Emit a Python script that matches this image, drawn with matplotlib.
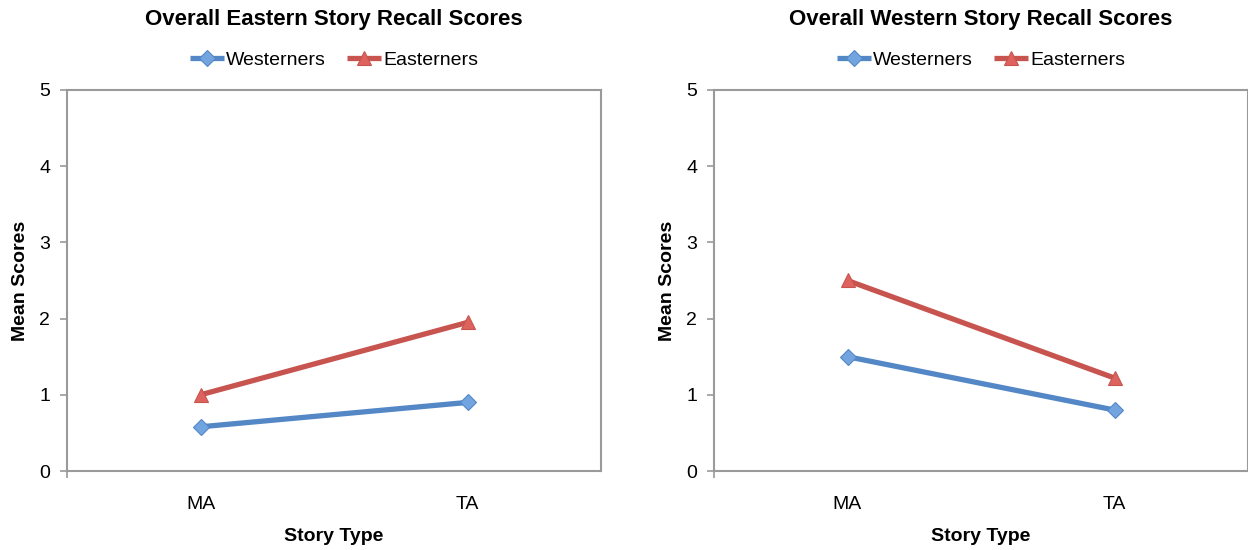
import matplotlib
matplotlib.use("Agg")
import matplotlib.pyplot as plt

plt.rcParams['font.family'] = ['Liberation Sans', 'DejaVu Sans']

categories = ["MA", "TA"]
titles = ["Overall Eastern Story Recall Scores", "Overall Western Story Recall Scores"]
westerners = [[0.58, 0.90], [1.50, 0.80]]
easterners = [[1.00, 1.95], [2.50, 1.22]]
yticks = [0, 1, 2, 3, 4, 5]

blue_line = "#5387C6"
blue_fill = "#72A4E0"
red_line = "#C8544F"
red_fill = "#DE635E"
spine_c = "#9A9A9A"

fig = plt.figure(figsize=(12.48, 5.5), dpi=100)
positions = [[67/1248, 79/550, 534/1248, 381/550], [714/1248, 79/550, 534/1248, 381/550]]

for i in range(2):
    ax = fig.add_axes(positions[i])
    x = list(range(len(categories)))
    ax.plot(x, westerners[i], color=blue_line, lw=3.8, marker="D", ms=8,
            mfc=blue_fill, mec=blue_line, mew=0.8, label="Westerners", solid_capstyle="butt")
    ax.plot(x, easterners[i], color=red_line, lw=3.8, marker="^", ms=10,
            mfc=red_fill, mec=red_line, mew=0.8, label="Easterners", solid_capstyle="butt")
    ax.set_xlim(-0.5, 1.5)
    ax.set_ylim(0, 5)
    ax.set_yticks(yticks)
    ax.set_xticks(x)
    ax.set_xticklabels(categories)
    ax.set_xticks([-0.5], minor=True)
    ax.tick_params(axis="x", which="major", length=0, labelsize=14, pad=18, colors="black")
    ax.tick_params(axis="x", which="minor", length=5, direction="out", color=spine_c, width=1.2)
    ax.tick_params(axis="y", length=5, direction="out", color=spine_c, width=1.2, labelsize=14, pad=7)
    for s in ax.spines.values():
        s.set_color(spine_c)
        s.set_linewidth(1.5)
    ax.set_ylabel("Mean Scores", fontsize=14, fontweight="bold", labelpad=7.5)
    ax.set_xlabel("Story Type", fontsize=14, fontweight="bold", labelpad=10.5)
    ax.set_title(titles[i], fontsize=16, fontweight="bold", pad=47)
    ax.legend(loc="lower center", bbox_to_anchor=(0.5, 1.0), ncol=2, frameon=False,
              fontsize=14, handlelength=1.75, handletextpad=0.1, columnspacing=1.1,
              borderaxespad=0.7)

fig.savefig("out.png", dpi=100)
